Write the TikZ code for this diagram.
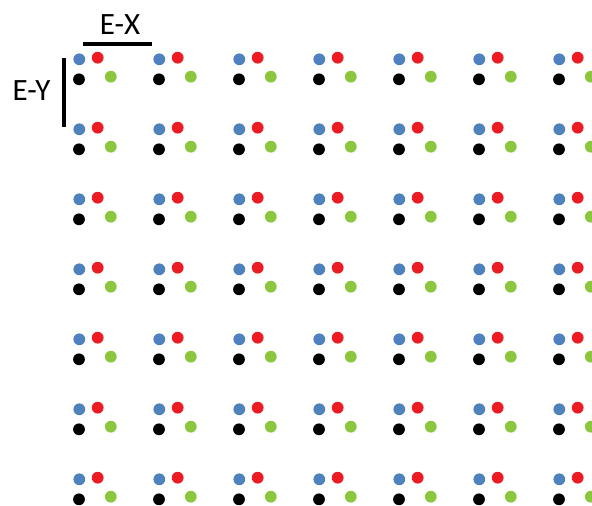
\documentclass[tikz,border=0pt]{standalone}
\usepackage{fontspec}
\setmainfont{Carlito}
\definecolor{dblue}{RGB}{79,129,189}
\definecolor{dred}{RGB}{237,28,36}
\definecolor{dgreen}{RGB}{140,198,63}
\begin{document}
\begin{tikzpicture}[x=1pt,y=-1pt,
  dot/.style={circle,inner sep=0pt,minimum size=11.8pt,draw=none},
  lbl/.style={font=\fontsize{31}{31}\selectfont,inner sep=0pt},
  bar/.style={line width=4pt}]
\useasboundingbox (0,0) rectangle (592,506);
\foreach \c in {0,...,6}{
  \foreach \r in {0,...,6}{
    \pgfmathsetmacro{\x}{79.3+80*\c}
    \pgfmathsetmacro{\y}{59.3+70*\r}
    \node[dot,fill=dblue] (b\c\r) at (\x,\y) {};
    \node[dot,fill=dred] (r\c\r) at (\x+18.4,\y-1.6) {};
    \node[dot,fill=black] (k\c\r) at (\x-0.3,\y+20) {};
    \node[dot,fill=dgreen] (g\c\r) at (\x+31.5,\y+17.4) {};
  }
}
\node[lbl] (ex) at (120,24.5) {E-X};
\node[lbl] (ey) at (31.5,91) {E-Y};
\coordinate (exa) at (82.7,44.3);
\coordinate (exb) at (152.3,44.3);
\coordinate (eya) at (63.5,58.3);
\coordinate (eyb) at (63.5,127.3);
\draw[bar] (exa) -- (exb);
\draw[bar] (eya) -- (eyb);
\end{tikzpicture}
\end{document}
